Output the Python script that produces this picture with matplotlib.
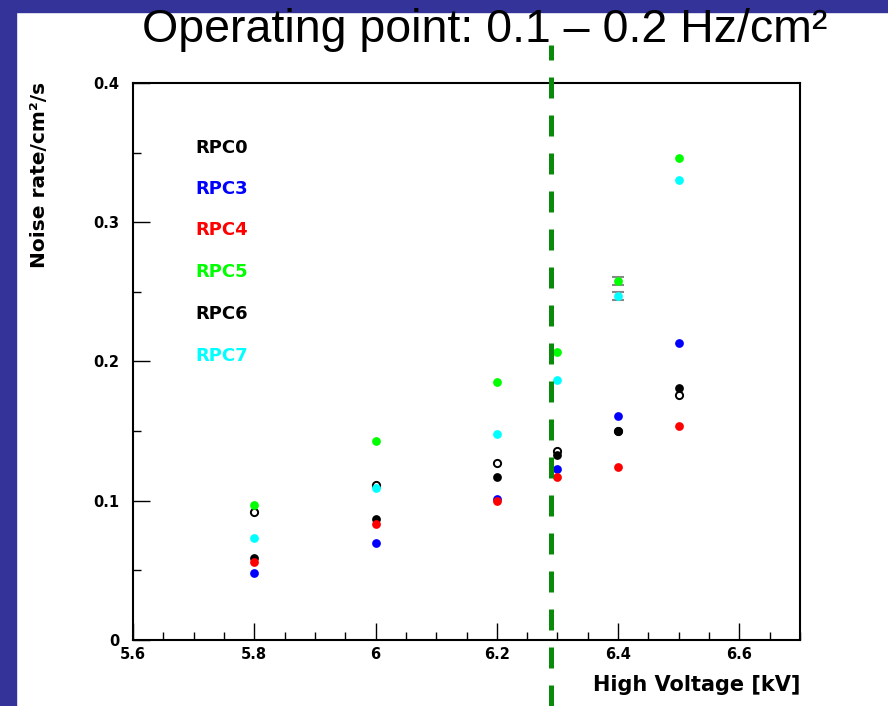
import matplotlib
matplotlib.use("Agg")
import matplotlib.pyplot as plt
from matplotlib.ticker import MultipleLocator, FuncFormatter
import matplotlib.patches as mpatches

hv = [5.8, 6.0, 6.2, 6.3, 6.4, 6.5]
series_names = ["RPC0", "RPC3", "RPC4", "RPC5", "RPC6", "RPC7"]
rpc0 = [0.059, 0.087, 0.117, 0.133, 0.150, 0.181]
rpc3 = [0.048, 0.070, 0.101, 0.123, 0.161, 0.213]
rpc4 = [0.056, 0.083, 0.100, 0.117, 0.124, 0.154]
rpc5 = [0.097, 0.143, 0.185, 0.207, 0.258, 0.346]
rpc6 = [0.092, 0.111, 0.127, 0.136, 0.150, 0.176]
rpc7 = [0.073, 0.109, 0.148, 0.187, 0.247, 0.330]
err5 = [0, 0, 0, 0, 0.003, 0]
err7 = [0, 0, 0, 0, 0.003, 0]
operating_hv = 6.29

fig = plt.figure(figsize=(8.88, 7.06), dpi=100)
fig.patch.set_facecolor("white")
band = "#333399"
fig.add_artist(mpatches.Rectangle((0, 1 - 12 / 706), 1, 12 / 706, transform=fig.transFigure,
                                  color=band, zorder=0))
fig.add_artist(mpatches.Rectangle((0, 0), 16 / 888, 1, transform=fig.transFigure,
                                  color=band, zorder=0))

ax = fig.add_axes([133 / 888, 1 - 640 / 706, (800 - 133) / 888, (640 - 83) / 706])
ax.set_xlim(5.6, 6.7)
ax.set_ylim(0, 0.4)

ms = 6.3
for vals, errs in ((rpc5, err5), (rpc7, err7)):
    xs = [x for x, e in zip(hv, errs) if e > 0]
    ys = [y for y, e in zip(vals, errs) if e > 0]
    es = [e for e in errs if e > 0]
    ax.errorbar(xs, ys, yerr=es, fmt="none", ecolor="#888888", capsize=4,
                elinewidth=1, capthick=1.5, zorder=2)
ax.plot(hv, rpc6, "o", ms=5.2, mfc="white", mec="black", mew=1.4, zorder=3)
ax.plot(hv, rpc7, "o", ms=ms, color="#00ffff", mec="none", zorder=4)
ax.plot(hv, rpc5, "o", ms=ms, color="#00ff00", mec="none", zorder=4)
ax.plot(hv, rpc3, "o", ms=ms, color="#0000ff", mec="none", zorder=4)
ax.plot(hv, rpc0, "o", ms=ms, color="black", mec="none", zorder=4)
ax.plot(hv, rpc4, "o", ms=ms, color="#ff0000", mec="none", zorder=5)

ax.axvline(operating_hv, ymin=(640 - 706) / 557, ymax=(640 - 45) / 557, clip_on=False,
           color="#0a8a0a", lw=3.6, dashes=(4.2, 3.4), zorder=6)

legend_colors = ["black", "#0000ff", "#ff0000", "#00ff00", "black", "#00ffff"]
legend_y = [148, 189, 230, 272, 314, 356]
for name, c, yp in zip(series_names, legend_colors, legend_y):
    ax.text((195 - 133) / 667, (640 - yp) / 557, name, color=c, fontsize=13,
            fontweight="bold", family="DejaVu Sans", va="center", ha="left",
            transform=ax.transAxes)

ax.xaxis.set_major_locator(MultipleLocator(0.2))
ax.xaxis.set_minor_locator(MultipleLocator(0.05))
ax.yaxis.set_major_locator(MultipleLocator(0.1))
ax.yaxis.set_minor_locator(MultipleLocator(0.05))

def fmt(v, pos):
    return f"{v:.2f}".rstrip("0").rstrip(".")
ax.xaxis.set_major_formatter(FuncFormatter(fmt))
ax.yaxis.set_major_formatter(FuncFormatter(fmt))
ax.tick_params(which="both", direction="in", top=False, right=False, width=1)
ax.tick_params(which="major", length=12, labelsize=10.5)
ax.tick_params(which="minor", length=6)
ax.tick_params(axis="x", pad=5)
ax.tick_params(axis="y", pad=10)
for lab in ax.get_xticklabels() + ax.get_yticklabels():
    lab.set_fontweight("bold")
for sp in ax.spines.values():
    sp.set_linewidth(1.5)

fig.text(800 / 888, 1 - 685 / 706, "High Voltage [kV]", ha="right", va="center",
         fontsize=15, fontweight="bold")
fig.text(40 / 888, 1 - 175 / 706, "Noise rate/cm²/s", ha="center", va="center",
         rotation=90, fontsize=14.5, fontweight="bold")

fig.text(485 / 888, 1 - 42 / 706, "Operating point: 0.1 – 0.2 Hz/cm²", ha="center",
         va="baseline", fontsize=33.5, family="Liberation Sans", zorder=10)

fig.savefig("out.png", dpi=100, facecolor="white")
